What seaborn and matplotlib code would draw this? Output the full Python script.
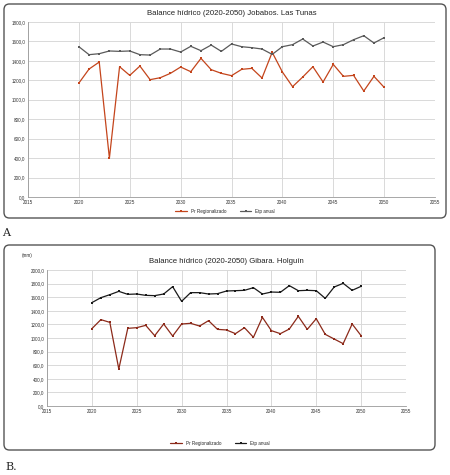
import numpy as np
import pandas as pd
import matplotlib
matplotlib.use("Agg")
import matplotlib.pyplot as plt
import seaborn as sns
from matplotlib.patches import FancyBboxPatch
from matplotlib.ticker import FuncFormatter

years = list(range(2020, 2051))

# A. Jobabos, Las Tunas
pr_jobabos = [1172, 1316, 1388, 400, 1340, 1251, 1347, 1207, 1227, 1272,
              1337, 1289, 1426, 1310, 1272, 1248, 1313, 1323, 1224, 1488,
              1286, 1135, 1234, 1340, 1183, 1364, 1241, 1251, 1090, 1241, 1128]
etp_jobabos = [1546, 1464, 1474, 1502, 1498, 1502, 1464, 1460, 1522, 1522,
               1491, 1550, 1505, 1563, 1498, 1574, 1546, 1536, 1522, 1467,
               1546, 1567, 1625, 1553, 1594, 1546, 1567, 1618, 1659, 1584, 1639]

# B. Gibara, Holguín
pr_gibara = [1137, 1270, 1230, 544, 1142, 1152, 1186, 1034, 1206, 1029,
             1206, 1216, 1176, 1255, 1127, 1118, 1064, 1152, 1010, 1304,
             1108, 1064, 1132, 1319, 1127, 1284, 1054, 985, 917, 1206, 1034]
etp_gibara = [1520, 1593, 1637, 1686, 1642, 1647, 1627, 1623, 1647, 1755,
              1539, 1667, 1667, 1647, 1652, 1691, 1696, 1701, 1740, 1647,
              1676, 1672, 1770, 1696, 1701, 1696, 1583, 1750, 1804, 1701, 1760]

series_names = ["Pr Regionalizado", "Etp anual"]

sns.set_theme(style="white")
plt.rcParams['font.family'] = ['Liberation Sans', 'DejaVu Sans']

fig = plt.figure(figsize=(4.5, 4.75), dpi=100)
W, H = 450, 475


def box(x0, y0, x1, y1):
    # rounded frame in pixel coords (top-left origin)
    p = FancyBboxPatch((x0 / W, 1 - y1 / H), (x1 - x0) / W, (y1 - y0) / H,
                       boxstyle="round,pad=0,rounding_size=0.012",
                       transform=fig.transFigure, fill=False,
                       edgecolor="#555555", linewidth=1.0)
    fig.patches.append(p)


def make_ax(x0, y0, x1, y1):
    return fig.add_axes([x0 / W, 1 - y1 / H, (x1 - x0) / W, (y1 - y0) / H])


def draw(ax, pr, etp, colors, ymax, title):
    df = pd.DataFrame({"year": years * 2,
                       "valor": pr + etp,
                       "serie": [series_names[0]] * len(years) + [series_names[1]] * len(years)})
    sns.lineplot(data=df, x="year", y="valor", hue="serie", palette=colors,
                 marker="s", markersize=2.0, markeredgewidth=0, linewidth=0.9,
                 ax=ax, legend=False)
    ax.set_xlim(2015, 2055)
    ax.set_ylim(0, ymax)
    ax.set_xticks(range(2015, 2056, 5))
    ax.set_yticks(range(0, ymax + 1, 200))
    ax.yaxis.set_major_formatter(FuncFormatter(lambda v, p: f"{v:.1f}".replace(".", ",")))
    ax.tick_params(labelsize=3.3, length=0, pad=2, colors="#333333")
    ax.grid(True, color="#d9d9d9", linewidth=0.7)
    for s in ["top", "right"]:
        ax.spines[s].set_visible(False)
    for s in ["left", "bottom"]:
        ax.spines[s].set_color("#999999")
        ax.spines[s].set_linewidth(0.6)
    ax.set_xlabel("")
    ax.set_ylabel("")
    ax.set_title(title, fontsize=5.6, pad=5, color="#222222")
    handles = [plt.Line2D([], [], color=c, marker="s", markersize=2.0,
                          markeredgewidth=0, linewidth=0.9)
               for c in colors]
    return handles


# --- chart A ---
box(4, 4, 446, 218)
ax1 = make_ax(28, 22, 435, 197)
h1 = draw(ax1, pr_jobabos, etp_jobabos, ["#c4451c", "#5a5a5a"], 1800,
          "Balance hídrico (2020-2050) Jobabos. Las Tunas")
fig.legend(h1, series_names, loc="center", bbox_to_anchor=(225 / W, 1 - 211 / H),
           ncol=2, frameon=False, fontsize=3.3, handlelength=2.5, columnspacing=3)
fig.text(2 / W, 1 - 233 / H, "A", fontsize=8, family="DejaVu Serif", va="center")

# --- chart B ---
box(4, 245, 435, 450)
ax2 = make_ax(47, 270, 406, 406)
h2 = draw(ax2, pr_gibara, etp_gibara, ["#8c2a1a", "#1a1a1a"], 2000,
          "Balance hídrico (2020-2050) Gibara. Holguín")
ax2.title.set_position((0.5, 1.06))
fig.text(22 / W, 1 - 256 / H, "(mm)", fontsize=3.3, va="center")
fig.legend(h2, series_names, loc="center", bbox_to_anchor=(220 / W, 1 - 443 / H),
           ncol=2, frameon=False, fontsize=3.3, handlelength=2.5, columnspacing=3)
fig.text(5 / W, 1 - 467 / H, "B.", fontsize=8, family="DejaVu Serif", va="center")

fig.savefig("out.png", dpi=100)
